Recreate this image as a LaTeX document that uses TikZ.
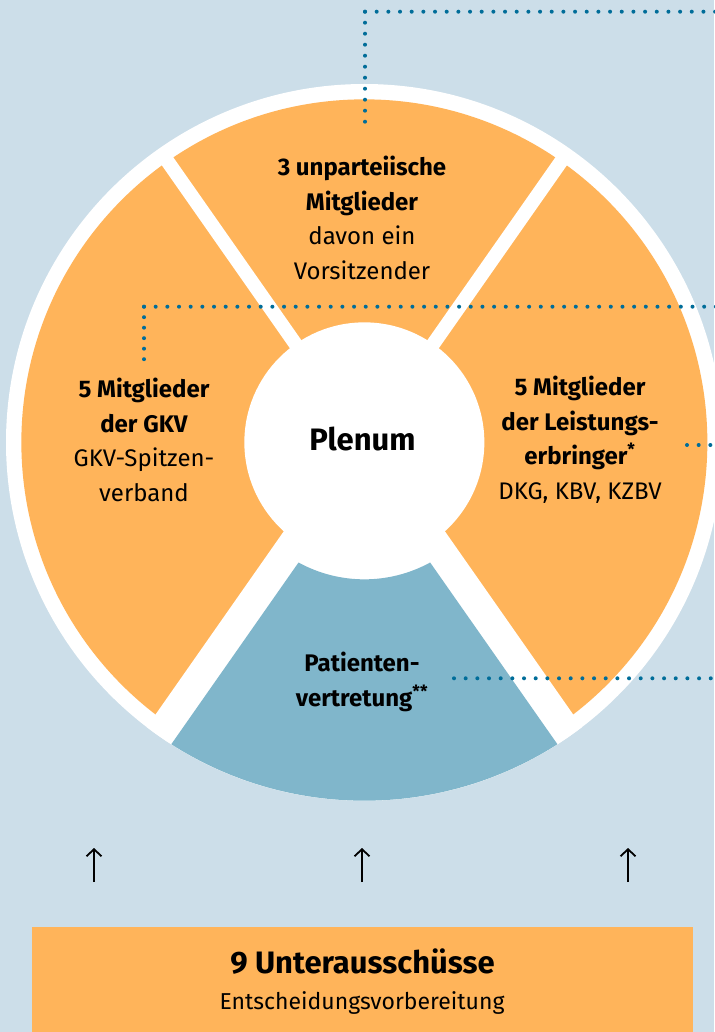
\documentclass[tikz,border=0pt]{standalone}
\usepackage{fontspec}
\setmainfont{Fira Sans}
\usetikzlibrary{arrows.meta}
\definecolor{bgc}{RGB}{204,222,233}
\definecolor{orng}{RGB}{255,180,90}
\definecolor{segblue}{RGB}{128,182,203}
\definecolor{dotc}{RGB}{0,109,153}
\tikzset{
  dotbase/.style={dotc, line width=4pt, line cap=round},
  doth/.style={dotbase, dash pattern=on 0pt off 11.67pt},
  dotv/.style={dotbase, dash pattern=on 0pt off 11pt},
  dotvb/.style={dotbase, dash pattern=on 0pt off 10.5pt},
  segtext/.style={align=center, font=\fontsize{24}{34.5}\selectfont, text=black, inner sep=0pt},
  uparrow/.style={-{Straight Barb[length=7pt,width=15pt]}, line width=1.8pt, black},
}
\begin{document}
\begin{tikzpicture}[x=1pt,y=1pt]
\useasboundingbox (0,0) rectangle (714,-1032);
\fill[bgc] (0,0) rectangle (714,-1032);
% wheel
\begin{scope}[shift={(364.35,-442.35)}]
  \fill[white] (0,0) circle[radius=358.35];
  \fill[orng] (0,0) circle[radius=343];
  \draw[white, line width=14pt] (0,0) -- (55:352) (0,0) -- (125:352);
  \begin{scope}
    \clip (0,0) circle[radius=358.35];
    \fill[white] (0,26.15) -- (-241.7,-319.1) -- (-241.7,-400) -- (241.7,-400) -- (241.7,-319.1) -- cycle;
  \end{scope}
  \fill[segblue] (241.29:137) -- (237.4:358.35)
     arc[start angle=237.4, end angle=302.6, radius=358.35]
     -- (298.71:137)
     arc[start angle=298.71, end angle=241.29, radius=137] -- cycle;
  \node[circle, fill=white, minimum size=240pt, inner sep=0pt] (plenum) at (0,0) {};
\end{scope}
% dotted leader lines
\coordinate (d1a) at (365,-132.7);
\coordinate (d1b) at (365,-11.7);
\coordinate (d1c) at (718,-11.7);
\draw[dotv] (d1b) -- (d1a);
\draw[doth] (d1b) -- (d1c);
\coordinate (d2a) at (144,-359.3);
\coordinate (d2b) at (144,-306.7);
\coordinate (d2c) at (718,-306.7);
\draw[dotvb] (d2b) -- (d2a);
\draw[doth] (d2b) -- (d2c);
\coordinate (d3a) at (687,-445);
\coordinate (d3b) at (718,-445);
\draw[doth] (d3a) -- (d3b);
\coordinate (d4a) at (454,-678.3);
\coordinate (d4b) at (718,-678.3);
\draw[doth] (d4a) -- (d4b);
% texts
\node[inner sep=0pt, font=\fontsize{31}{31}\selectfont\bfseries] (plenumtxt) at (362.5,-438.5) {Plenum};
\node[segtext] (toptxt) at (362,-218) {{\bfseries 3 unparteiische}\\{\bfseries Mitglieder}\\davon ein\\Vorsitzender};
\node[segtext] (lefttxt) at (144,-440) {{\bfseries 5 Mitglieder}\\{\bfseries der GKV}\\GKV-Spitzen-\\verband};
\node[segtext] (righttxt) at (580,-440) {{\bfseries 5 Mitglieder}\\{\bfseries der Leistungs-}\\{\bfseries erbringer\textsuperscript{*}}\\DKG, KBV, KZBV};
\node[segtext] (bluetxt) at (362,-682) {{\bfseries Patienten-}\\{\bfseries vertretung\textsuperscript{**}}};
% arrows
\foreach \i/\x in {1/94,2/362,3/628} {
  \coordinate (as\i) at (\x,-882);
  \coordinate (ae\i) at (\x,-848);
  \draw[uparrow] (as\i) -- (ae\i);
}
% bottom box
\node[fill=orng, minimum width=661pt, minimum height=105pt, inner sep=0pt] (ua) at (362.5,-979.5) {};
\node[inner sep=0pt, font=\fontsize{31}{31}\selectfont\bfseries] (uatitle) at (362.5,-962) {9 Unterausschüsse};
\node[inner sep=0pt, font=\fontsize{23}{23}\selectfont] (uasub) at (362,-1003) {Entscheidungsvorbereitung};
\end{tikzpicture}
\end{document}
